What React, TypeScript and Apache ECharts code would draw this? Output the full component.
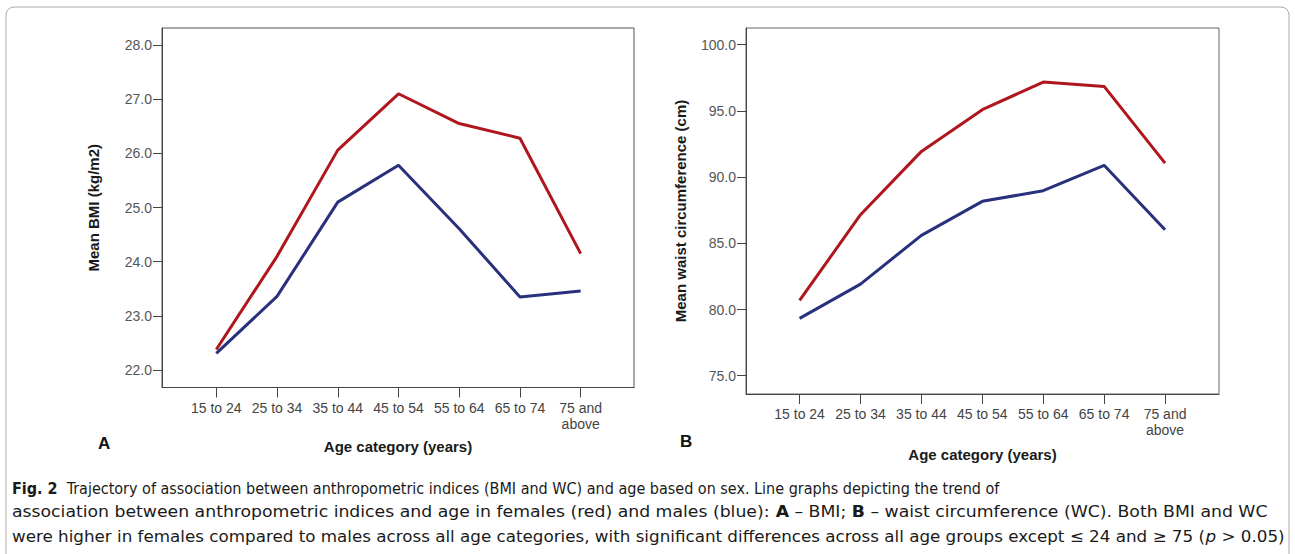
import React, { useEffect, useRef } from "react";
import * as echarts from "echarts";

const categories = ["15 to 24", "25 to 34", "35 to 44", "45 to 54", "55 to 64", "65 to 74", "75 and\nabove"];
const bmiFemales = [22.38, 24.1, 26.06, 27.1, 26.55, 26.28, 24.15];
const bmiMales = [22.31, 23.36, 25.1, 25.78, 24.61, 23.35, 23.46];
const wcFemales = [80.69, 87.16, 91.94, 95.09, 97.18, 96.85, 91.06];
const wcMales = [79.33, 81.92, 85.6, 88.17, 88.97, 90.89, 86.03];
const bmiTicks = [22, 23, 24, 25, 26, 27, 28];
const wcTicks = [75, 80, 85, 90, 95, 100];
const captionLines = [
  "Trajectory of association between anthropometric indices (BMI and WC) and age based on sex. Line graphs depicting the trend of",
  "association between anthropometric indices and age in females (red) and males (blue): ",
  "were higher in females compared to males across all age categories, with significant differences across all age groups except ≤ 24 and ≥ 75 (",
];

const RED = "#b0161e";
const BLUE = "#29307c";
const FONT = "'Liberation Sans', Arial, sans-serif";
const CAP_FONT = "'Liberation Sans Narrow', 'DejaVu Sans Condensed', 'Liberation Sans', sans-serif";

export default function App() {
  const ref = useRef<HTMLDivElement>(null);
  useEffect(() => {
    if (!ref.current) return;
    const chart = echarts.init(ref.current, null, { renderer: "svg" });
    const idx = categories.map((_, i) => i);
    const xAxisBase = (gridIndex: number, min: number, max: number, gap: number) => ({
      type: "value" as const,
      gridIndex,
      min,
      max,
      name: "Age category (years)",
      nameLocation: "middle" as const,
      nameGap: gap,
      nameTextStyle: { fontFamily: FONT, fontWeight: "bold" as const, fontSize: 15, color: "#1a1a1a" },
      axisLine: { show: true, onZero: false, lineStyle: { color: "#444", width: 1 } },
      axisTick: { show: true, length: 10, customValues: idx, lineStyle: { color: "#444" } },
      axisLabel: {
        customValues: idx,
        margin: 12,
        fontFamily: FONT,
        fontSize: 14,
        color: "#444",
        lineHeight: 16,
        formatter: (v: number) => categories[Math.round(v)] ?? "",
      },
      splitLine: { show: false },
    });
    const yAxisBase = (gridIndex: number, min: number, max: number, ticks: number[], name: string, gap: number) => ({
      type: "value" as const,
      gridIndex,
      min,
      max,
      name,
      nameLocation: "middle" as const,
      nameGap: gap,
      nameTextStyle: { fontFamily: FONT, fontWeight: "bold" as const, fontSize: 15, color: "#1a1a1a" },
      axisLine: { show: true, onZero: false, lineStyle: { color: "#444", width: 1 } },
      axisTick: { show: true, length: 9, customValues: ticks, lineStyle: { color: "#444" } },
      axisLabel: {
        customValues: ticks,
        margin: 10,
        fontFamily: FONT,
        fontSize: 14,
        color: "#555",
        formatter: (v: number) => v.toFixed(1),
      },
      splitLine: { show: false },
    });
    const line = (data: number[], color: string, xi: number) => ({
      type: "line" as const,
      xAxisIndex: xi,
      yAxisIndex: xi,
      data: data.map((v, i) => [i, v]),
      showSymbol: false,
      symbol: "none",
      lineStyle: { color, width: 3 },
      itemStyle: { color },
    });
    const capStyle = { fontFamily: CAP_FONT, fontSize: 16, fill: "#1a1a1a" };
    chart.setOption({
      animation: false,
      backgroundColor: "#fff",
      grid: [
        { left: 162, top: 28, width: 472, height: 359.5, show: true, borderColor: "#555", borderWidth: 1, backgroundColor: "transparent" },
        { left: 746, top: 28, width: 473, height: 366, show: true, borderColor: "#666", borderWidth: 1, backgroundColor: "transparent" },
      ],
      xAxis: [xAxisBase(0, -0.894, 6.878, 51), xAxisBase(1, -0.88, 6.886, 53)],
      yAxis: [
        yAxisBase(0, 21.679, 28.314, bmiTicks, "Mean BMI (kg/m2)", 61),
        yAxisBase(1, 73.62, 101.26, wcTicks, "Mean waist circumference (cm)", 58),
      ],
      series: [
        line(bmiFemales, RED, 0),
        line(bmiMales, BLUE, 0),
        line(wcFemales, RED, 1),
        line(wcMales, BLUE, 1),
      ],
      graphic: [
        {
          type: "rect",
          shape: { x: 6, y: 7, width: 1283, height: 570, r: 8 },
          style: { fill: "none", stroke: "#aaa", lineWidth: 1 },
          silent: true,
        },
        { type: "text", x: 98, y: 443, style: { text: "A", fontFamily: FONT, fontWeight: "bold", fontSize: 17, fill: "#111", verticalAlign: "middle" } },
        { type: "text", x: 680, y: 441, style: { text: "B", fontFamily: FONT, fontWeight: "bold", fontSize: 17, fill: "#111", verticalAlign: "middle" } },
        {
          type: "text",
          x: 12,
          y: 488,
          style: {
            ...capStyle,
            verticalAlign: "middle",
            text: "{b|Fig. 2}  " + captionLines[0],
            rich: { b: { fontFamily: CAP_FONT, fontSize: 16, fontWeight: "bold", fill: "#1a1a1a" } },
          },
        },
        {
          type: "text",
          x: 12,
          y: 512,
          scaleX: 1.2,
          style: {
            ...capStyle,
            verticalAlign: "middle",
            text: captionLines[1] + "{b|A} – BMI; {b|B} – waist circumference (WC). Both BMI and WC",
            rich: { b: { fontFamily: CAP_FONT, fontSize: 16, fontWeight: "bold", fill: "#1a1a1a" } },
          },
        },
        {
          type: "text",
          x: 12,
          y: 536,
          scaleX: 1.163,
          style: {
            ...capStyle,
            verticalAlign: "middle",
            text: captionLines[2] + "{i|p} > 0.05)",
            rich: { i: { fontFamily: CAP_FONT, fontSize: 16, fontStyle: "italic", fill: "#1a1a1a" } },
          },
        },
      ],
    });
    return () => chart.dispose();
  }, []);
  return <div ref={ref} style={{ position: "absolute", left: 0, top: 0, width: 1295, height: 554 }} />;
}
